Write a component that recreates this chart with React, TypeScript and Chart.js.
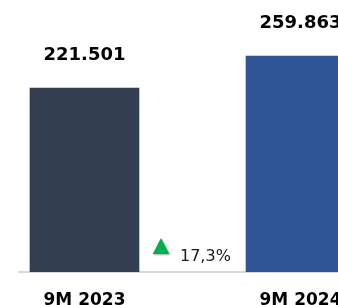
import React, { useEffect, useRef } from "react";
import { Chart, registerables } from "chart.js";

Chart.register(...registerables);

const categories: string[] = ["9M 2023", "9M 2024"];
const values: number[] = [221501, 259863];
const barColors: string[] = ["#333f50", "#2f5597"];
const yMax = 300000;

const formatThousands = (v: number) =>
  String(Math.round(v)).replace(/\B(?=(\d{3})+(?!\d))/g, ".");

const growthPct = (values[1] / values[0] - 1) * 100;
const growthLabel = growthPct.toFixed(1).replace(".", ",") + "%";

const FONT = "'DejaVu Sans', Verdana, sans-serif";

const annotationPlugin = {
  id: "annotations",
  afterDatasetsDraw(chart: any) {
    const ctx = chart.ctx;
    const meta = chart.getDatasetMeta(0);
    ctx.save();
    // value labels
    ctx.fillStyle = "#000000";
    ctx.font = `bold 18px ${FONT}`;
    ctx.textAlign = "center";
    ctx.textBaseline = "alphabetic";
    meta.data.forEach((bar: any, i: number) => {
      ctx.fillText(formatThousands(values[i]), bar.x, bar.y - 28);
    });
    // growth annotation
    const xs = chart.scales.x;
    const bottom = chart.chartArea.bottom;
    const xMid = xs.getPixelForValue(0.5);
    const tx = xMid - 31.5;
    ctx.save();
    ctx.shadowColor = "rgba(0,0,0,0.35)";
    ctx.shadowBlur = 2;
    ctx.shadowOffsetX = 1;
    ctx.shadowOffsetY = 1;
    ctx.fillStyle = "#00b050";
    ctx.beginPath();
    ctx.moveTo(tx - 8.3, bottom - 18);
    ctx.lineTo(tx + 8.3, bottom - 18);
    ctx.lineTo(tx, bottom - 34);
    ctx.closePath();
    ctx.fill();
    ctx.restore();
    ctx.fillStyle = "#1a1a1a";
    ctx.font = `16px ${FONT}`;
    ctx.textAlign = "left";
    ctx.textBaseline = "alphabetic";
    ctx.fillText(growthLabel, xMid - 12.5, bottom - 11);
    ctx.restore();
  },
};

export default function App() {
  const ref = useRef<HTMLCanvasElement | null>(null);

  useEffect(() => {
    if (!ref.current) return;
    const chart = new Chart(ref.current, {
      type: "bar",
      data: {
        datasets: [
          {
            data: values.map((v, i) => ({ x: i, y: v })),
            backgroundColor: barColors,
            borderWidth: 0,
            barThickness: 109,
          },
        ],
      },
      options: {
        responsive: false,
        animation: false,
        layout: { padding: { top: 22.8, left: 19, right: 0, bottom: 0 } },
        plugins: {
          legend: { display: false },
          tooltip: { enabled: false },
        },
        scales: {
          x: {
            type: "linear",
            offset: false,
            bounds: "data",
            min: -0.30324,
            max: 1.17361,
            grid: { display: false, drawTicks: false },
            border: { display: true, color: "#d9d9d9", width: 2 },
            afterBuildTicks: (scale: any) => {
              scale.ticks = categories.map((_, i) => ({ value: i }));
            },
            afterFit: (scale: any) => {
              scale.height = 33;
              scale.paddingLeft = 0;
              scale.paddingRight = 0;
            },
            ticks: {
              autoSkip: false,
              maxRotation: 0,
              padding: 18,
              color: "#000000",
              font: { family: FONT, size: 17, weight: "bold" },
              callback: (v: any) => categories[v as number] ?? "",
            },
          },
          y: {
            display: false,
            min: 0,
            max: yMax,
          },
        },
      },
      plugins: [annotationPlugin],
    });
    return () => chart.destroy();
  }, []);

  return (
    <div
      style={{
        position: "fixed",
        left: 0,
        top: 0,
        width: 338,
        height: 305,
        overflow: "hidden",
        background: "#ffffff",
      }}
    >
      <canvas ref={ref} width={338} height={305} style={{ display: "block" }} />
    </div>
  );
}
